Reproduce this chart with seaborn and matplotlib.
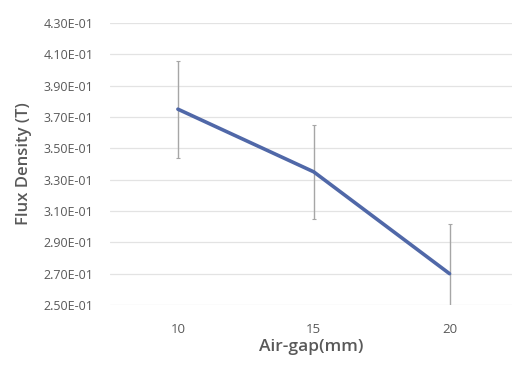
import pandas as pd
import matplotlib
matplotlib.use("Agg")
import matplotlib.pyplot as plt
import seaborn as sns
from matplotlib.ticker import FuncFormatter

# === data ===
air_gap = [10, 15, 20]
flux_density = [0.375, 0.335, 0.270]
flux_error = [0.031, 0.030, 0.032]
y_ticks = [0.25, 0.27, 0.29, 0.31, 0.33, 0.35, 0.37, 0.39, 0.41, 0.43]

df = pd.DataFrame({"air_gap": air_gap, "flux": flux_density, "err": flux_error})

sns.set_theme(style="white")
plt.rcParams['font.family'] = ['Open Sans', 'DejaVu Sans']

fig = plt.figure(figsize=(5.15, 3.69), dpi=100)
ax = fig.add_axes([110 / 515, 1 - 305 / 369, (512 - 110) / 515, (305 - 23) / 369])

ax.errorbar(df['air_gap'], df['flux'], yerr=df['err'], fmt='none',
            ecolor='#a6a6a6', elinewidth=1, capsize=1.5, capthick=0.8, zorder=2)
sns.lineplot(data=df, x='air_gap', y='flux', ax=ax, color='#5068a8',
             linewidth=2.6, zorder=3)

ax.set_xlim(7.5, 22.3)
ax.set_ylim(0.25, 0.43)
ax.set_xticks(air_gap)
ax.set_yticks(y_ticks)
ax.yaxis.set_major_formatter(FuncFormatter(lambda v, p: f"{v:.2E}"))
ax.grid(True, axis='y', color='#e3e3e3', linewidth=0.9)
ax.grid(False, axis='x')
for s in ax.spines.values():
    s.set_visible(False)

ax.tick_params(axis='y', length=0, pad=12, labelsize=9, labelcolor='#595959')
ax.tick_params(axis='x', length=0, pad=13, labelsize=9.5, labelcolor='#595959')
ax.set_xlabel("Air-gap(mm)", fontsize=12.5, color='#595959', fontweight='semibold', labelpad=2)
ax.set_ylabel("Flux Density (T)", fontsize=12, color='#595959', fontweight='semibold', labelpad=8)

fig.savefig("out.png", dpi=100)
